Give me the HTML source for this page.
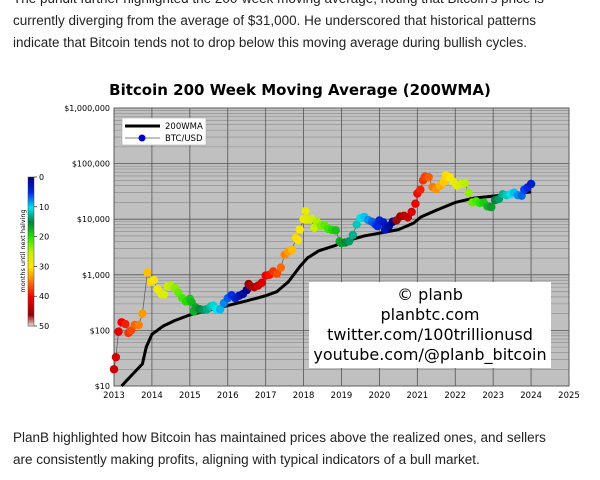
<!DOCTYPE html>
<html><head><meta charset="utf-8"><style>
body{margin:0;width:600px;height:480px;background:#fff;overflow:hidden;font-family:"DejaVu Sans","Liberation Sans",sans-serif;}
p{position:absolute;left:13px;margin:0;font-family:"Liberation Sans",sans-serif;font-size:13.5px;color:#222;line-height:22px;}
</style></head><body>
<p style="top:-12px;width:590px">The pundit further highlighted the 200-week moving average, noting that Bitcoin's price is<br>currently diverging from the average of $31,000. He underscored that historical patterns<br>indicate that Bitcoin tends not to drop below this moving average during bullish cycles.</p>
<svg id="chart" width="600" height="480" style="position:absolute;left:0;top:0"></svg>
<p style="top:427px">PlanB highlighted how Bitcoin has maintained prices above the realized ones, and sellers<br>are consistently making profits, aligning with typical indicators of a bull market.</p>
<script>
const priceYears=[2013.0,2013.05,2013.12,2013.2,2013.3,2013.38,2013.45,2013.55,2013.65,2013.75,2013.88,2013.97,2014.05,2014.15,2014.25,2014.32,2014.42,2014.5,2014.6,2014.7,2014.8,2014.9,2015.0,2015.05,2015.1,2015.15,2015.25,2015.35,2015.45,2015.55,2015.62,2015.7,2015.8,2015.9,2016.0,2016.1,2016.2,2016.3,2016.4,2016.5,2016.55,2016.6,2016.7,2016.8,2016.9,2017.0,2017.1,2017.2,2017.3,2017.4,2017.5,2017.6,2017.7,2017.8,2017.85,2017.9,2018.0,2018.05,2018.1,2018.2,2018.28,2018.35,2018.45,2018.55,2018.65,2018.75,2018.85,2018.95,2019.0,2019.1,2019.2,2019.3,2019.4,2019.5,2019.6,2019.7,2019.8,2019.9,2019.95,2020.0,2020.1,2020.15,2020.25,2020.35,2020.45,2020.55,2020.65,2020.75,2020.85,2020.95,2021.0,2021.08,2021.15,2021.2,2021.3,2021.4,2021.5,2021.6,2021.7,2021.75,2021.85,2021.95,2022.05,2022.15,2022.25,2022.35,2022.45,2022.55,2022.65,2022.75,2022.85,2022.95,2023.05,2023.15,2023.25,2023.35,2023.45,2023.55,2023.65,2023.75,2023.82,2023.9,2024.0];
const prices=[20,33,95,140,130,90,100,125,125,200,1100,750,800,550,450,440,620,630,580,480,380,330,370,320,220,260,240,235,240,270,280,240,240,310,380,430,380,420,450,530,680,620,600,640,720,970,1000,1150,1050,1350,2300,2600,2800,4600,4200,6500,10000,14000,10000,10200,7000,9000,7500,7800,6700,6400,6300,4000,3700,3800,4000,5200,8000,10500,11000,9700,9000,8000,7500,9500,8800,6500,7500,9000,9500,11200,11500,10800,13500,19000,29000,34000,50000,58000,57000,38000,35000,40000,47000,62000,57000,47000,40000,43000,45000,30000,20000,21000,19500,20000,17000,16500,22000,23000,28000,27000,28000,30000,27000,26500,34000,37000,43000];
const wmaYears=[2013.2,2013.4,2013.75,2013.85,2014.0,2014.3,2014.6,2015.0,2015.5,2016.0,2016.5,2017.0,2017.3,2017.6,2017.9,2018.1,2018.4,2018.8,2019.2,2019.6,2020.0,2020.5,2020.9,2021.1,2021.5,2022.0,2022.5,2023.0,2023.5,2024.0];
const wmaValues=[10,14,25,50,85,120,150,190,230,280,340,420,500,750,1400,2000,2700,3300,4200,5000,5600,6500,8500,11000,14500,20000,24000,26000,28000,31000];
const halvings=[2012.9,2016.53,2020.36,2024.3];
const yTickLabels=["$10","$100","$1,000","$10,000","$100,000","$1,000,000"];
const xTickLabels=["2013","2014","2015","2016","2017","2018","2019","2020","2021","2022","2023","2024","2025"];
const cbTicks=[0,10,20,30,40,50];

const svg=document.getElementById('chart');const NS='http://www.w3.org/2000/svg';
function mk(t,a,p){const e=document.createElementNS(NS,t);for(const k in a)e.setAttribute(k,a[k]);(p||svg).appendChild(e);return e;}
const L=114,R=569,T=108,B=386;
const x=v=>L+(v-2013)/12*(R-L);
const y=v=>B-(Math.log10(v)-1)/5*(B-T);
const stops=[[0,[0,0,130]],[5,[0,40,230]],[10,[0,230,240]],[15,[0,130,60]],[20,[40,230,0]],[25,[200,240,0]],[30,[255,230,0]],[34,[255,140,0]],[40,[240,0,0]],[46,[150,0,0]],[50,[240,235,235]]];
function cmap(m){m=Math.max(0,Math.min(50,m));for(let i=1;i<stops.length;i++){if(m<=stops[i][0]){const a=stops[i-1],b=stops[i];const f=(m-a[0])/(b[0]-a[0]);const c=a[1].map((v,k)=>Math.round(v+(b[1][k]-v)*f));return `rgb(${c})`;}}return 'rgb(240,235,235)';}
function months(yr){for(const h of halvings)if(h>yr)return (h-yr)*12;return 0;}

let e=mk('text',{x:300,y:95,'text-anchor':'middle','font-size':15,'font-weight':'bold',fill:'#000'});e.textContent='Bitcoin 200 Week Moving Average (200WMA)';

e=mk('rect',{x:L,y:T,width:R-L,height:B-T,fill:'#c0c0c0'});

for(let d=1;d<6;d++)for(let m=2;m<10;m++){const v=m*Math.pow(10,d);mk('line',{x1:L,x2:R,y1:y(v),y2:y(v),stroke:'#8a8a8a','stroke-width':0.6});}
for(let i=0;i<yTickLabels.length;i++){const yy=y(Math.pow(10,i+1));mk('line',{x1:L,x2:R,y1:yy,y2:yy,stroke:'#555','stroke-width':0.8});
 e=mk('text',{x:L-4,y:yy+3,'text-anchor':'end','font-size':8,fill:'#000'});e.textContent=yTickLabels[i];
 }
for(let i=0;i<xTickLabels.length;i++){const xx=x(2013+i);mk('line',{x1:xx,x2:xx,y1:T,y2:B,stroke:'#555','stroke-width':0.8});
 e=mk('text',{x:xx,y:B+12,'text-anchor':'middle','font-size':8.5,fill:'#000'});e.textContent=xTickLabels[i];
 }
mk('rect',{x:L,y:T,width:R-L,height:B-T,fill:'none',stroke:'#555','stroke-width':0.8});
e=mk('polyline',{points:priceYears.map((v,i)=>x(v)+','+y(prices[i])).join(' '),fill:'none',stroke:'#555','stroke-width':0.7});

e=mk('polyline',{points:wmaYears.map((v,i)=>x(v)+','+y(wmaValues[i])).join(' '),fill:'none',stroke:'#000','stroke-width':3,'stroke-linejoin':'round'});

priceYears.forEach((v,i)=>{const c=mk('circle',{cx:x(v),cy:y(prices[i]),r:4.2,fill:cmap(months(v))});
 
 });
const lg=mk('g',{});
mk('rect',{x:122,y:118,width:84,height:27,fill:'#fff',stroke:'#aaa','stroke-width':0.6},lg);
mk('line',{x1:125,x2:160,y1:126,y2:126,stroke:'#000','stroke-width':3},lg);
e=mk('text',{x:165,y:129,'font-size':8.5},lg);e.textContent='200WMA';
mk('line',{x1:125,x2:160,y1:138,y2:138,stroke:'#555','stroke-width':0.8},lg);
mk('circle',{cx:142,cy:138,r:3.5,fill:'#0000cc'},lg);
e=mk('text',{x:165,y:141,'font-size':8.5},lg);e.textContent='BTC/USD';
const cb=mk('g',{});
const CT=177,CB=326;
for(let k=0;k<100;k++){mk('rect',{x:28,y:CT+k*(CB-CT)/100,width:6,height:(CB-CT)/100+0.6,fill:cmap(k/2)},cb);}
mk('rect',{x:28,y:CT,width:6,height:CB-CT,fill:'none',stroke:'#444','stroke-width':0.5},cb);
cbTicks.forEach(t=>{const yy=CT+t/50*(CB-CT);mk('line',{x1:34,x2:37,y1:yy,y2:yy,stroke:'#000','stroke-width':0.6},cb);
 const tx=mk('text',{x:39,y:yy+3,'font-size':8},cb);tx.textContent=t;});
e=mk('text',{x:25,y:251,'font-size':6.5,'text-anchor':'middle',transform:'rotate(-90 25 251)'},cb);e.textContent='months until next halving';
const an=mk('g',{});
mk('rect',{x:309,y:282,width:242,height:86,fill:'#fff'},an);
['© planb','planbtc.com','twitter.com/100trillionusd','youtube.com/@planb_bitcoin'].forEach((s,i)=>{const t=mk('text',{x:430,y:300+i*20,'text-anchor':'middle','font-size':16,fill:'#000'},an);t.textContent=s;});
</script>
</body></html>
